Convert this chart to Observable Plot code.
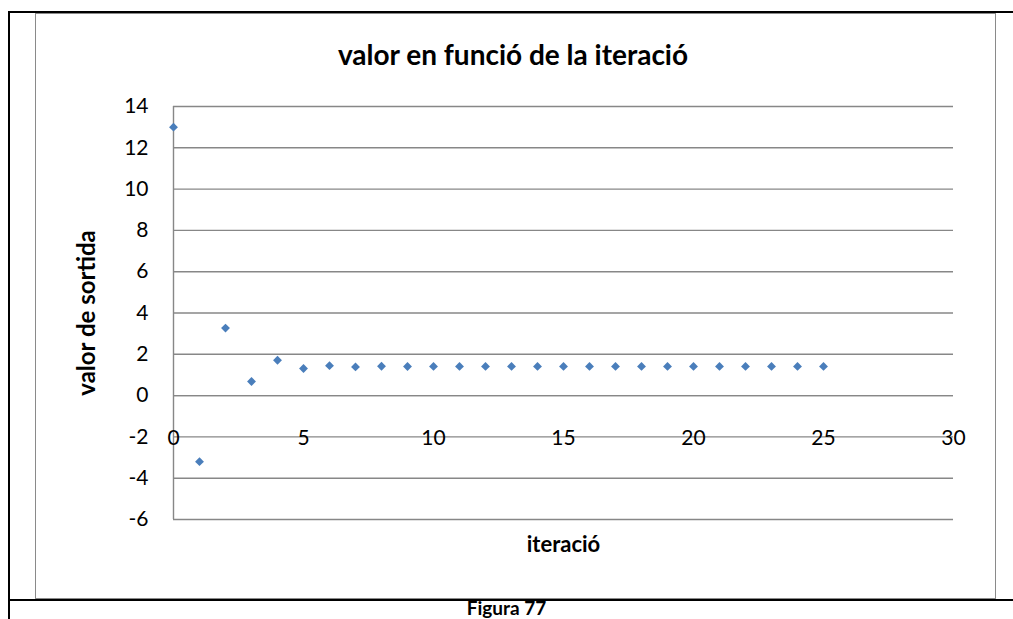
<!DOCTYPE html>
<html>
<head>
<meta charset="utf-8">
<script src="https://cdn.jsdelivr.net/npm/d3@7"></script>
<script src="https://cdn.jsdelivr.net/npm/@observablehq/plot@0.6"></script>
<style>
  html, body { margin: 0; padding: 0; background: #fff; }
  #page { position: relative; width: 1013px; height: 619px; overflow: hidden; font-family: Lato, "Open Sans", sans-serif; }
  #chart { position: absolute; left: 0; top: 0; }
  .line { position: absolute; background: #000; }
  #area { position: absolute; left: 35px; top: 13px; width: 959px; height: 584px; border: 1.5px solid #8a8a8a; }
  #title { position: absolute; left: 0; width: 1026px; top: 40px; line-height: 28px; text-align: center; font-weight: bold; font-size: 28px; color: #000; }
  #caption { position: absolute; left: 0; width: 1013px; top: 598px; line-height: 19px; text-align: center; font-weight: bold; font-size: 19px; color: #000; }
</style>
</head>
<body>
<div id="page">
  <div class="line" style="left:8px; top:11px; width:1005px; height:2px;"></div>
  <div class="line" style="left:8px; top:11px; width:2px; height:608px;"></div>
  <div id="area"></div>
  <div class="line" style="left:8px; top:599px; width:1005px; height:2px;"></div>
  <div id="chart"></div>
  <div id="title">valor en funció de la iteració</div>
  <div id="caption">Figura 77</div>
</div>
<script>
// Output value at each iteration
const iteracio = [0, 1, 2, 3, 4, 5, 6, 7, 8, 9, 10, 11, 12, 13, 14, 15, 16, 17, 18, 19, 20, 21, 22, 23, 24, 25];
const valor = [13, -3.2, 3.27, 0.68, 1.71, 1.31, 1.45, 1.39, 1.42, 1.41, 1.414, 1.414, 1.414, 1.414, 1.414, 1.414, 1.414, 1.414, 1.414, 1.414, 1.414, 1.414, 1.414, 1.414, 1.414, 1.414];

// Axis ticks and titles
const xTicks = [0, 5, 10, 15, 20, 25, 30];
const yTicks = [-6, -4, -2, 0, 2, 4, 6, 8, 10, 12, 14];
const xTitle = "iteració";
const yTitle = "valor de sortida";

const data = iteracio.map((x, i) => ({x, y: valor[i]}));
const grid = "#878787";

const chart = Plot.plot({
  width: 1013,
  height: 600,
  marginLeft: 173,
  marginRight: 60,
  marginTop: 106,
  marginBottom: 81,
  style: {fontFamily: "Lato, 'Open Sans', sans-serif", background: "transparent", overflow: "visible"},
  x: {domain: [0, 30]},
  y: {domain: [-6, 14]},
  marks: [
    Plot.gridY(yTicks, {stroke: grid, strokeOpacity: 1, strokeWidth: 1.4}),
    Plot.ruleY([0], {stroke: grid, strokeWidth: 1.4}),
    Plot.ruleX([0], {y1: -6, y2: 14, stroke: grid, strokeWidth: 1.4}),
    Plot.axisY(yTicks, {tickSize: 0, tickPadding: 25, fontSize: 21, fill: "#000", label: null, tickFormat: d => String(d)}),
    Plot.axisX({ticks: [], label: null}),
    Plot.text(xTicks, {x: d => d, y: 0, dy: 43, text: d => String(d), fontSize: 21, fill: "#000"}),
    Plot.dot(data, {x: "x", y: "y", symbol: "diamond2", r: 4, fill: "#4a7ebb", stroke: "none"}),
    Plot.text([yTitle], {frameAnchor: "left", textAnchor: "middle", dx: -86, rotate: -90, fontSize: 24, fontWeight: "bold", fill: "#000"}),
    Plot.text([xTitle], {frameAnchor: "bottom", dy: 32, fontSize: 22, fontWeight: "bold", fill: "#000"})
  ]
});
document.getElementById("chart").append(chart);
</script>
</body>
</html>
